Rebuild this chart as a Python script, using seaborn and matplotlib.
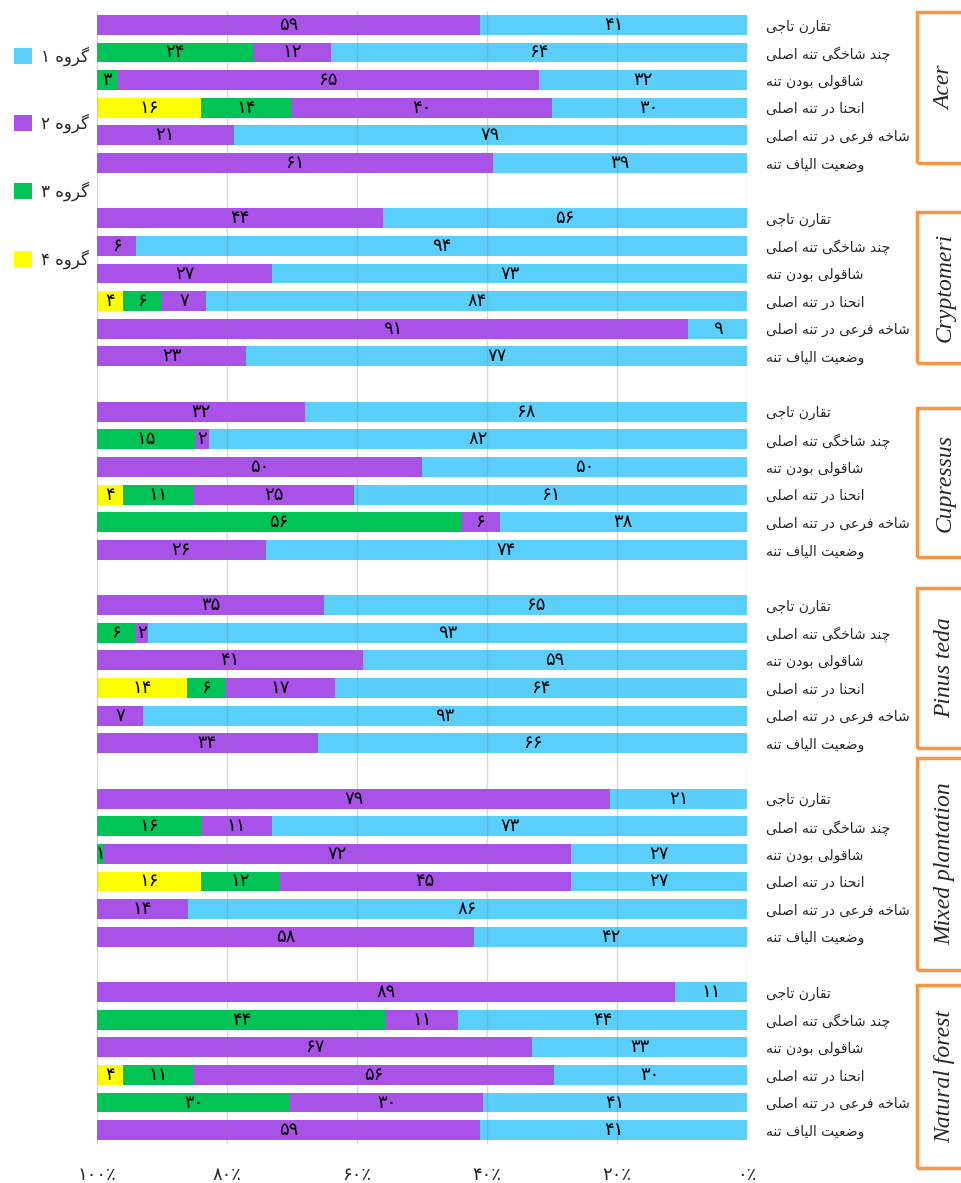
import matplotlib
matplotlib.use('Agg')
import matplotlib.pyplot as plt
from matplotlib.patches import Rectangle, Patch
import seaborn as sns
import numpy as np
import pandas as pd

import warnings
warnings.filterwarnings('ignore')

sns.set_theme(style='white')
plt.rcParams['font.family'] = ['DejaVu Sans']

# ---- data (percent per group, species-major, trait order as on the chart) ----
species = ['Acer', 'Cryptomeri', 'Cupressus', 'Pinus teda', 'Mixed plantation', 'Natural forest']
traits = ['تقارن تاجی', 'چند شاخگی تنه اصلی', 'شاقولی بودن تنه',
          'انحنا در تنه اصلی', 'شاخه فرعی در تنه اصلی', 'وضعیت الیاف تنه']
groups = ['گروه ۱', 'گروه ۲', 'گروه ۳', 'گروه ۴']
colors = ['#5BCFFB', '#A952E8', '#00C456', '#FFFF00']

g1 = [41, 64, 32, 30, 79, 39,
      56, 94, 73, 84, 9, 77,
      68, 82, 50, 61, 38, 74,
      65, 93, 59, 64, 93, 66,
      21, 73, 27, 27, 86, 42,
      11, 44, 33, 30, 41, 41]
g2 = [59, 12, 65, 40, 21, 61,
      44, 6, 27, 7, 91, 23,
      32, 2, 50, 25, 6, 26,
      35, 2, 41, 17, 7, 34,
      79, 11, 72, 45, 14, 58,
      89, 11, 67, 56, 30, 59]
g3 = [0, 24, 3, 14, 0, 0,
      0, 0, 0, 6, 0, 0,
      0, 15, 0, 11, 56, 0,
      0, 6, 0, 6, 0, 0,
      0, 16, 1, 12, 0, 0,
      0, 44, 0, 11, 30, 0]
g4 = [0, 0, 0, 16, 0, 0,
      0, 0, 0, 4, 0, 0,
      0, 0, 0, 4, 0, 0,
      0, 0, 0, 14, 0, 0,
      0, 0, 0, 16, 0, 0,
      0, 0, 0, 4, 0, 0]
xticks = [0, 20, 40, 60, 80, 100]

# ---- minimal persian shaping (matplotlib has no bidi / joining) ----
FORMS = {
    'ا': (0xFE8D, 0xFE8E), 'د': (0xFEA9, 0xFEAA), 'ر': (0xFEAD, 0xFEAE), 'و': (0xFEED, 0xFEEE),
    'ب': (0xFE8F, 0xFE90, 0xFE91, 0xFE92), 'ت': (0xFE95, 0xFE96, 0xFE97, 0xFE98),
    'ج': (0xFE9D, 0xFE9E, 0xFE9F, 0xFEA0), 'ح': (0xFEA1, 0xFEA2, 0xFEA3, 0xFEA4),
    'خ': (0xFEA5, 0xFEA6, 0xFEA7, 0xFEA8), 'ش': (0xFEB5, 0xFEB6, 0xFEB7, 0xFEB8),
    'ص': (0xFEB9, 0xFEBA, 0xFEBB, 0xFEBC), 'ض': (0xFEBD, 0xFEBE, 0xFEBF, 0xFEC0),
    'ع': (0xFEC9, 0xFECA, 0xFECB, 0xFECC), 'ف': (0xFED1, 0xFED2, 0xFED3, 0xFED4),
    'ق': (0xFED5, 0xFED6, 0xFED7, 0xFED8), 'ل': (0xFEDD, 0xFEDE, 0xFEDF, 0xFEE0),
    'ن': (0xFEE5, 0xFEE6, 0xFEE7, 0xFEE8), 'ه': (0xFEE9, 0xFEEA, 0xFEEB, 0xFEEC),
    'ی': (0xFBFC, 0xFBFD, 0xFBFE, 0xFBFF), 'چ': (0xFB7A, 0xFB7B, 0xFB7C, 0xFB7D),
    'گ': (0xFB92, 0xFB93, 0xFB94, 0xFB95),
}


def shape(s):
    out = []
    for i, ch in enumerate(s):
        f = FORMS.get(ch)
        if f is None:
            out.append(ch)
            continue
        prev = s[i - 1] if i > 0 else ''
        nxt = s[i + 1] if i + 1 < len(s) else ''
        jp = prev in FORMS and len(FORMS[prev]) == 4
        jn = len(f) == 4 and nxt in FORMS
        k = 3 if (jp and jn) else 1 if jp else 2 if jn else 0
        out.append(chr(f[k]))
    return ''.join(out)[::-1]


def fa(n):
    return str(n).translate(str.maketrans('0123456789', '۰۱۲۳۴۵۶۷۸۹'))


# ---- table ----
rows = []
for si, sp in enumerate(species):
    for ti, tr in enumerate(traits):
        k = si * 6 + ti
        rows.append(dict(species=sp, trait=tr, pos=si * 7 + ti,
                         g1=g1[k], g2=g2[k], g3=g3[k], g4=g4[k]))
df = pd.DataFrame(rows)
vals = df[['g1', 'g2', 'g3', 'g4']].values.astype(float)
pct = vals / vals.sum(axis=1, keepdims=True) * 100
cum = np.cumsum(pct, axis=1)
for j in range(4):
    df['c%d' % (j + 1)] = cum[:, j]

fig = plt.figure(figsize=(9.62, 11.83), dpi=100)
ax = fig.add_axes([97 / 962, 1 - 1144 / 1183, 650 / 962, (1144 - 11) / 1183])

# stacked bars: draw longest cumulative first
for j in [3, 2, 1, 0]:
    sns.barplot(data=df, x='c%d' % (j + 1), y='pos', orient='y', native_scale=True,
                color=colors[j], saturation=1, width=0.72, linewidth=0,
                errorbar=None, ax=ax)

for r in range(len(df)):
    prev = 0
    for j in range(4):
        if vals[r, j] > 0:
            ax.text((prev + cum[r, j]) / 2, df['pos'][r], fa(int(vals[r, j])),
                    ha='center', va='center', fontsize=13, color='black')
        prev = cum[r, j]

ax.set_xlim(100, 0)
ax.set_ylim(40.5, -0.5)
ax.set_xticks(xticks)
ax.set_xticklabels([fa(t) + '٪' for t in xticks], fontsize=13)
ax.set_yticks(df['pos'])
ax.set_yticklabels([shape(t) for t in df['trait']], fontsize=10, ha='left')
ax.yaxis.tick_right()
ax.tick_params(axis='x', length=0, pad=16)
ax.tick_params(axis='y', length=0, pad=14)
ax.set_xlabel('')
ax.set_ylabel('')
for s in ax.spines.values():
    s.set_visible(False)
ax.set_axisbelow(False)
ax.grid(axis='x', color='#808080', alpha=0.3, linewidth=1)
ax.grid(axis='y', visible=False)

# legend
handles = [Patch(facecolor=c, edgecolor='none') for c in colors]
fig.legend(handles, [shape(g) for g in groups], loc='upper left',
           bbox_to_anchor=(14 / 962, 1 - 46 / 1183), frameon=False, fontsize=12,
           handlelength=1.1, handleheight=1.1, handletextpad=0.5, labelspacing=2.9,
           borderpad=0, borderaxespad=0)

# species boxes on the right
box_spans = [(12, 163), (212, 363), (408, 557), (588, 748), (758, 970), (985, 1168)]
for sp, (top, bot) in zip(species, box_spans):
    fig.add_artist(Rectangle((917 / 962, 1 - bot / 1183), 70 / 962, (bot - top) / 1183,
                             transform=fig.transFigure, fill=False, edgecolor='#F79646',
                             linewidth=2.5, clip_on=False))
    fig.text(945 / 962, 1 - (top + bot) / 2 / 1183, sp, rotation=90, ha='center', va='center',
             family=['Liberation Serif', 'DejaVu Serif'], style='italic', fontsize=17)

fig.savefig('out.png', dpi=100)
